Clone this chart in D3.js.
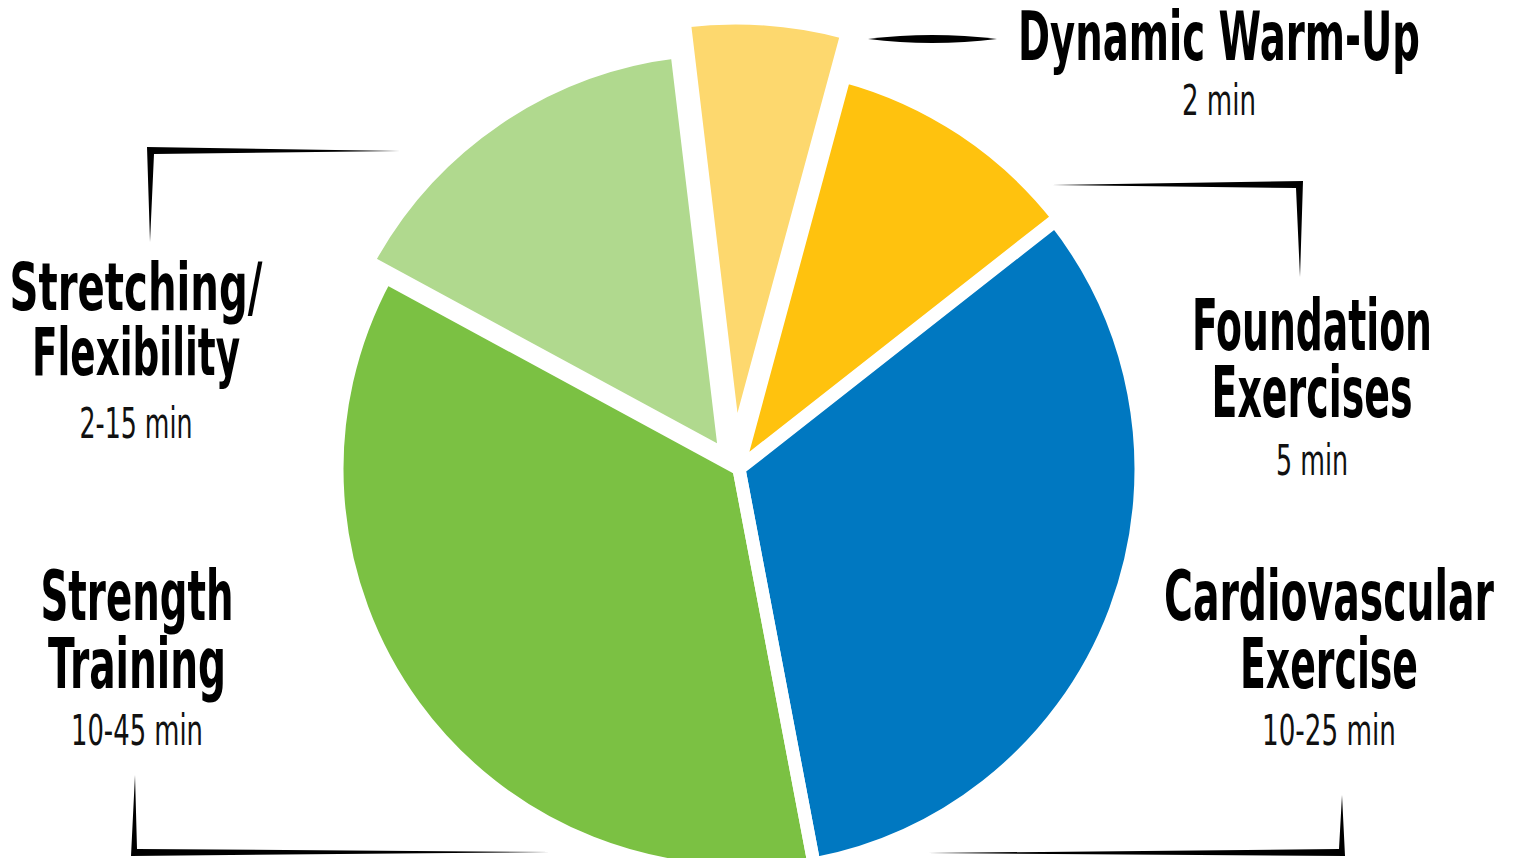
<!DOCTYPE html>
<meta charset="utf-8">
<script src="https://d3js.org/d3.v7.min.js"></script>
<style>
  body { margin: 0; background: #fff; }
  .title { font-family: "Liberation Sans Narrow", "DejaVu Sans Condensed", "DejaVu Sans", sans-serif; font-weight: bold; font-stretch: condensed; fill: #000; }
  .sub { font-family: "Liberation Sans Narrow", "DejaVu Sans Condensed", "DejaVu Sans", sans-serif; font-weight: normal; font-stretch: condensed; fill: #111; }
</style>
<div id="chart"></div>
<script>

// data (share of the circle, in %)
var categories = ["Dynamic Warm-Up", "Foundation Exercises", "Cardiovascular Exercise", "Strength Training", "Stretching/Flexibility"];
var titleLines = [["Dynamic Warm-Up"], ["Foundation", "Exercises"], ["Cardiovascular", "Exercise"], ["Strength", "Training"], ["Stretching/", "Flexibility"]];
var durations = ["2 min", "5 min", "10-25 min", "10-45 min", "2-15 min"];
var shares = [6.1, 10.2, 32.6, 35.9, 15.2];
var colors = ["#FDD86E", "#FFC20E", "#0078C1", "#7BC143", "#B0D98E"];

// layout
var width = 1513, height = 858;
var cx = 739, cy = 469;
var gap = 13;
var outerR = [429, 407, 402, 402, 406];
var shift = [[-4, -22], [-1, 0], [0, 0], [0, 0], [-14, -14]];

// label placement: centre x, baselines of title lines, baseline of duration, widths
var labelX = [1219, 1312, 1329, 137, 136];
var lineY = [[60], [350, 417], [620, 688], [620, 688], [310, 375]];
var subY = [115, 475, 745, 745, 438];
var titleSize = [68, 71, 70, 70, 65];
var lineW = [[402], [240, 201], [330, 178], [193, 178], [253, 208]];
var subW = [74, 72, 134, 132, 113];

// brush-stroke callouts: tip, outer corner, tip, inner corner
var callouts = [
  [[150, 242], [147, 147], [400, 151], [154, 154]],
  [[1052, 185], [1303, 181], [1300, 277], [1296, 188]],
  [[1342, 795], [1345, 856], [928, 853], [1339, 849]],
  [[135, 775], [131, 856], [550, 852], [137, 849]]
];

var svg = d3.select("#chart")
  .append("svg")
    .attr("width", width)
    .attr("height", height);

var pie = d3.pie()
  .sort(null)
  .value(function(d) { return d; })
  .startAngle(-6.8 * Math.PI / 180)
  .endAngle(-6.8 * Math.PI / 180 + 2 * Math.PI);

var arcs = pie(shares);

var arc = d3.arc()
  .innerRadius(0)
  .outerRadius(function(d) { return outerR[d.index]; });

var g = svg.append("g")
  .attr("transform", "translate(" + cx + "," + cy + ")");

// fills first, then white gaps on top
g.selectAll("path.slice")
  .data(arcs)
  .enter()
  .append("path")
    .attr("class", "slice")
    .attr("transform", function(d) { return "translate(" + shift[d.index][0] + "," + shift[d.index][1] + ")"; })
    .attr("d", arc)
    .attr("fill", function(d) { return colors[d.index]; });

g.selectAll("path.gap")
  .data(arcs)
  .enter()
  .append("path")
    .attr("class", "gap")
    .attr("transform", function(d) { return "translate(" + shift[d.index][0] + "," + shift[d.index][1] + ")"; })
    .attr("d", arc)
    .attr("fill", "none")
    .attr("stroke", "#fff")
    .attr("stroke-width", gap)
    .attr("stroke-linejoin", "round");

// callout strokes
svg.selectAll("path.callout")
  .data(callouts)
  .enter()
  .append("path")
    .attr("class", "callout")
    .attr("d", function(d) { return "M" + d.join("L") + "Z"; })
    .attr("fill", "#000");

// the short tapered dash next to Dynamic Warm-Up
svg.append("path")
  .attr("d", "M868,39 Q932,31 997,39 Q932,47 868,39 Z")
  .attr("fill", "#000");

// labels
categories.forEach(function(c, i) {
  var lab = svg.append("g").attr("class", "label");
  titleLines[i].forEach(function(t, j) {
    lab.append("text")
      .attr("class", "title")
      .attr("x", labelX[i])
      .attr("y", lineY[i][j])
      .attr("text-anchor", "middle")
      .attr("textLength", lineW[i][j])
      .attr("lengthAdjust", "spacingAndGlyphs")
      .style("font-size", titleSize[i] + "px")
      .text(t);
  });
  lab.append("text")
    .attr("class", "sub")
    .attr("x", labelX[i])
    .attr("y", subY[i])
    .attr("text-anchor", "middle")
    .attr("textLength", subW[i])
    .attr("lengthAdjust", "spacingAndGlyphs")
    .style("font-size", "43px")
    .text(durations[i]);
});

</script>
